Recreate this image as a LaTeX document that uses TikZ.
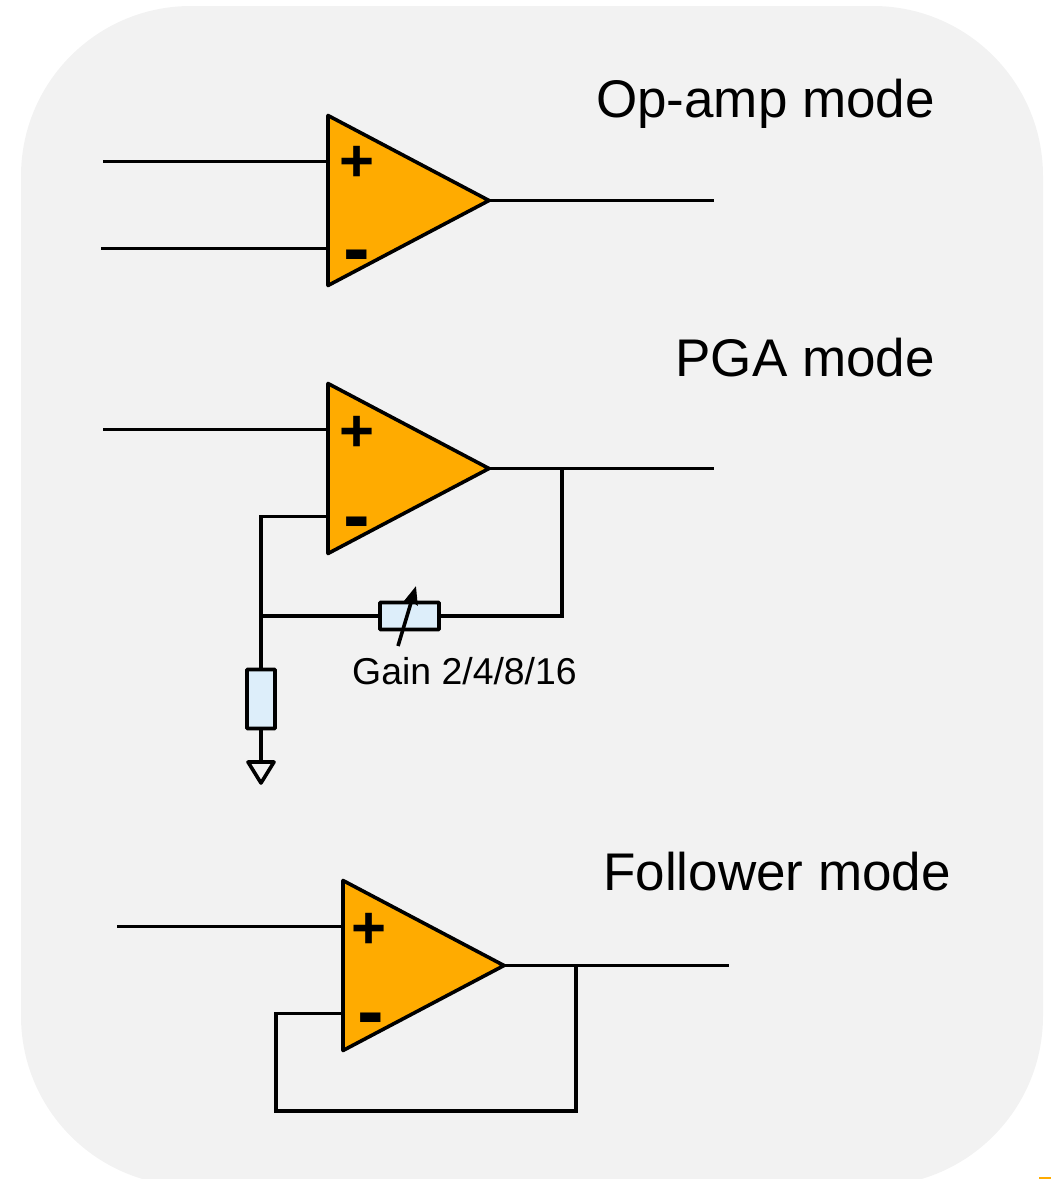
\documentclass[tikz,border=0pt]{standalone}
\usepackage{fontspec}
\setmainfont{Liberation Sans}
\usepackage[x11names, svgnames, rgb]{xcolor}
\usetikzlibrary{arrows.meta, calc, positioning}
\definecolor{panelgray}{HTML}{F2F2F2}
\definecolor{ampfill}{HTML}{FFAB00}
\definecolor{resfill}{HTML}{DDEEFA}
\tikzset{
  wire/.style={draw=black, line width=3.6pt},
  amp/.style={wire, fill=ampfill, line join=round},
  res/.style={wire, fill=resfill, rectangle, inner sep=0pt, rounded corners=.6pt},
  mode/.style={anchor=base east, inner sep=0pt, font=\fontsize{53}{60}\selectfont},
  pluslabel/.style={inner sep=0pt, font=\fontsize{60}{60}\bfseries\selectfont},
  minuslabel/.style={inner sep=0pt, font=\fontsize{80}{80}\bfseries\selectfont},
}
\begin{document}
\begin{tikzpicture}[>={Stealth[length=18pt,width=14pt,inset=2pt]},x=1pt,y=-1pt]
  \useasboundingbox (0,0) rectangle (1051,1179);
  \clip (0,0) rectangle (1051,1179);
  \fill[panelgray, rounded corners=170pt] (21,6) rectangle (1043,1186);
  \fill[ampfill] (1039,1177) rectangle (1051,1179);

  \node[mode] (opamptitle) at (935,117) {Op-amp mode};
  \node[mode] (pgatitle) at (935,376) {PGA mode};
  \node[mode] (followertitle) at (951,890) {Follower mode};

  % the three amplifiers
  \foreach \name/\x/\y/\px/\py/\mx/\my in {opamp/328/115.5/357/164/357/262.5,
      pga/328/383.5/357/434/357/530, follower/343/880.5/369/931/371/1026} {
    \draw[amp] (\x,\y) -- ++(0,170) -- ++(161,-85) -- cycle;
    \coordinate (\name-p) at (\x,\y+46);
    \coordinate (\name-m) at (\x,\y+133);
    \coordinate (\name-out) at (\x+161,\y+85);
    \node[pluslabel] (\name-plus) at (\px,\py) {+};
    \node[minuslabel] (\name-minus) at (\mx,\my) {-};
  }

  % op-amp mode
  \coordinate (opampa) at (103,161.5);
  \coordinate (opampb) at (101,248.5);
  \coordinate (opampc) at (714,200.5);
  \draw[wire] (opampa) -- (opamp-p);
  \draw[wire] (opampb) -- (opamp-m);
  \draw[wire] (opamp-out) -- (opampc);

  % pga mode
  \coordinate (pgaa) at (103,429.5);
  \coordinate (pgac) at (714,468.5);
  \coordinate (pgatap) at (562,468.5);
  \coordinate (pgajoin) at (261,616);
  \node[res, minimum width=59pt, minimum height=27pt] (rgain) at (409.5,616) {};
  \node[res, minimum width=28pt, minimum height=59pt] (rlow) at (261,699) {};
  \coordinate (gnd) at (261,762);
  \node[inner sep=0pt, font=\fontsize{37.4}{40}\selectfont, anchor=base] (gainlabel) at (464.5,684) {Gain 2/4/8/16};
  \coordinate (gaina) at (398,646);
  \coordinate (gainb) at (416,586);
  \draw[wire] (pgaa) -- (pga-p);
  \draw[wire] (pga-out) -- (pgac);
  \draw[wire] (pga-m) -| (pgajoin) -- (rlow);
  \draw[wire] (pgajoin) -- (rgain) -- (rgain -| pgatap) -- (pgatap);
  \draw[wire] (rlow) -- (gnd);
  \draw[wire, line join=round] (gnd) ++(-13,0) -- ++(26,0) -- ++(-13,21) -- cycle;
  \draw[wire, ->] (gaina) -- (gainb);

  % follower mode
  \coordinate (followera) at (117,926.5);
  \coordinate (followerc) at (729,965.5);
  \coordinate (followertap) at (576,965.5);
  \coordinate (followerloop) at (276,1111);
  \draw[wire] (followera) -- (follower-p);
  \draw[wire] (follower-out) -- (followerc);
  \draw[wire] (follower-m) -| (followerloop) -| (followertap);
\end{tikzpicture}
\end{document}
